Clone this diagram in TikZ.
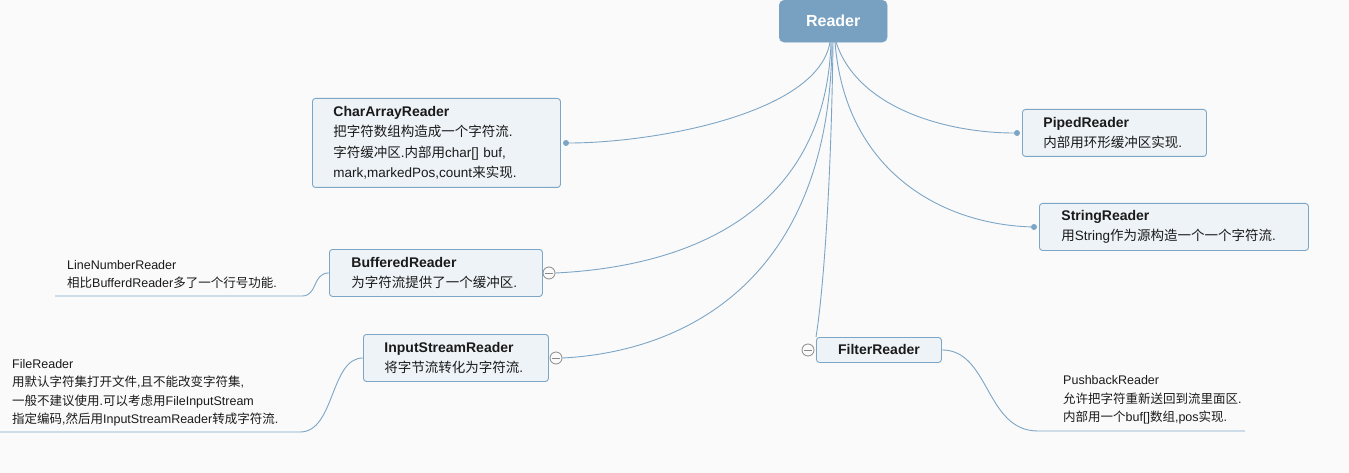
\documentclass[tikz,border=0pt]{standalone}
\usepackage{fontspec}
\setmainfont{Liberation Sans}
\newfontfamily\cjk{Noto Sans CJK SC}
\newcommand\zh[1]{{\cjk #1}}
\definecolor{bgc}{HTML}{FAFAFA}
\definecolor{lineblue}{HTML}{7DA5C6}
\definecolor{readerfill}{HTML}{78A1C1}
\definecolor{boxfill}{HTML}{EEF3F7}
\definecolor{txt}{HTML}{1A1A1A}
\definecolor{collgray}{HTML}{8A8A8A}
\tikzset{
  box/.style={draw=lineblue, fill=boxfill, rounded corners=3pt, line width=0.9pt,
    anchor=north west, inner xsep=21pt, inner ysep=0pt, align=left, text=txt,
    font=\fontsize{13.5}{20.5}\selectfont},
  note/.style={anchor=base west, inner sep=0pt, align=left, text=txt,
    font=\fontsize{12.5}{18.5}\selectfont},
  conn/.style={draw=lineblue, line width=0.9pt},
  dotnode/.style={circle, fill=lineblue, inner sep=0pt, minimum size=6pt},
  collapse/.style={circle, draw=collgray, fill=bgc, line width=0.8pt, inner sep=0pt, minimum size=12pt}
}
\begin{document}
\begin{tikzpicture}[x=1pt,y=-1pt]
\useasboundingbox (0,0) rectangle (1349,473);
\fill[bgc] (0,0) rectangle (1349,473);

% root
\node[draw=readerfill, fill=readerfill, rounded corners=5pt, anchor=north west,
  minimum width=108pt, minimum height=42pt, inner sep=0pt, text=white,
  font=\fontsize{16}{18}\selectfont\bfseries] (reader) at (779,0) {Reader};
\coordinate (r1) at (830,42);
\coordinate (r2) at (831,42);
\coordinate (r3) at (832,42);
\coordinate (r4) at (833,42);
\coordinate (r5) at (835,42);
\coordinate (r6) at (836,42);

% boxes
\node[box, minimum width=248pt, minimum height=89pt, text width=206pt, inner xsep=20pt] (car) at (312,98)
  {\textbf{\fontsize{14}{20.5}\selectfont CharArrayReader}\\\zh{把字符数组构造成一个字符流}.\\\zh{字符缓冲区}.\zh{内部用}char[] buf,\\mark,markedPos,count\zh{来实现}.};
\node[box, minimum width=213pt, minimum height=47pt, text width=169pt, inner xsep=22pt] (br) at (329,249)
  {\textbf{\fontsize{14}{20.5}\selectfont BufferedReader}\\\zh{为字符流提供了一个缓冲区}.};
\node[box, minimum width=185pt, minimum height=47pt, text width=143pt, inner xsep=21pt] (isr) at (363,334)
  {\textbf{\fontsize{14}{20.5}\selectfont InputStreamReader}\\\zh{将字节流转化为字符流}.};
\node[box, minimum width=125pt, minimum height=25pt, inner xsep=0pt, align=center,
  font=\fontsize{14}{16}\selectfont\bfseries] (fir) at (816,337) {FilterReader};
\node[box, minimum width=184pt, minimum height=47pt, text width=142pt, inner xsep=21pt] (pip) at (1022,109)
  {\textbf{\fontsize{14}{20.5}\selectfont PipedReader}\\\zh{内部用环形缓冲区实现}.};
\node[box, minimum width=269pt, minimum height=47pt, text width=225pt, inner xsep=22pt] (str) at (1039,203)
  {\textbf{\fontsize{14}{20.5}\selectfont StringReader}\\\zh{用}String\zh{作为源构造一个一个字符流}.};

% dots and collapse markers
\node[dotnode] (d1) at (566,143) {};
\node[dotnode] (d2) at (1017,133) {};
\node[dotnode] (d3) at (1034,227) {};
\node[collapse] (c1) at (549,273) {};
\node[collapse] (c2) at (556,358) {};
\node[collapse] (c3) at (808,350) {};
\foreach \c in {c1,c2,c3}
  \draw[collgray, line width=0.8pt] ([xshift=2.5pt]\c.west) -- ([xshift=-2.5pt]\c.east);

% notes (anchored at the baseline of their last line)
\node[note] (lnr) at (67,287.5) {LineNumberReader\\\zh{相比}BufferdReader\zh{多了一个行号功能}.};
\node[note] (fr) at (12,423.5) {FileReader\\\zh{用默认字符集打开文件},\zh{且不能改变字符集},\\\zh{一般不建议使用}.\zh{可以考虑用}FileInputStream\\\zh{指定编码},\zh{然后用}InputStreamReader\zh{转成字符流}.};
\node[note] (pr) at (1063,421.5) {PushbackReader\\\zh{允许把字符重新送回到流里面区}.\\\zh{内部用一个}buf[]\zh{数组},pos\zh{实现}.};

% ends of underlines
\coordinate (lnrA) at (302,296);
\coordinate (lnrB) at (55,296);
\coordinate (frA) at (300,432);
\coordinate (frB) at (0,432);
\coordinate (prA) at (1038,431);
\coordinate (prB) at (1245,431);

% connectors from root
\draw[conn] (r1) .. controls (818,115) and (650,143) .. (d1);
\draw[conn] (r6) .. controls (858,110) and (950,133) .. (d2);
\draw[conn] (r5) .. controls (845,170) and (940,224) .. (d3);
\draw[conn] (r2) .. controls (826,205) and (700,266) .. (c1.east);
\draw[conn] (r3) .. controls (830,285) and (680,352) .. (c2.east);
\draw[conn] (r4) .. controls (831,200) and (822,300) .. (fir.north west);

% sub-connectors
\draw[conn] (br.west) .. controls (312,273) and (318,296) .. (lnrA) -- (lnrB);
\draw[conn] (isr.west) .. controls (330,358) and (335,432) .. (frA) -- (frB);
\draw[conn] (fir.east) .. controls (990,350) and (985,431) .. (prA) -- (prB);
\end{tikzpicture}
\end{document}
